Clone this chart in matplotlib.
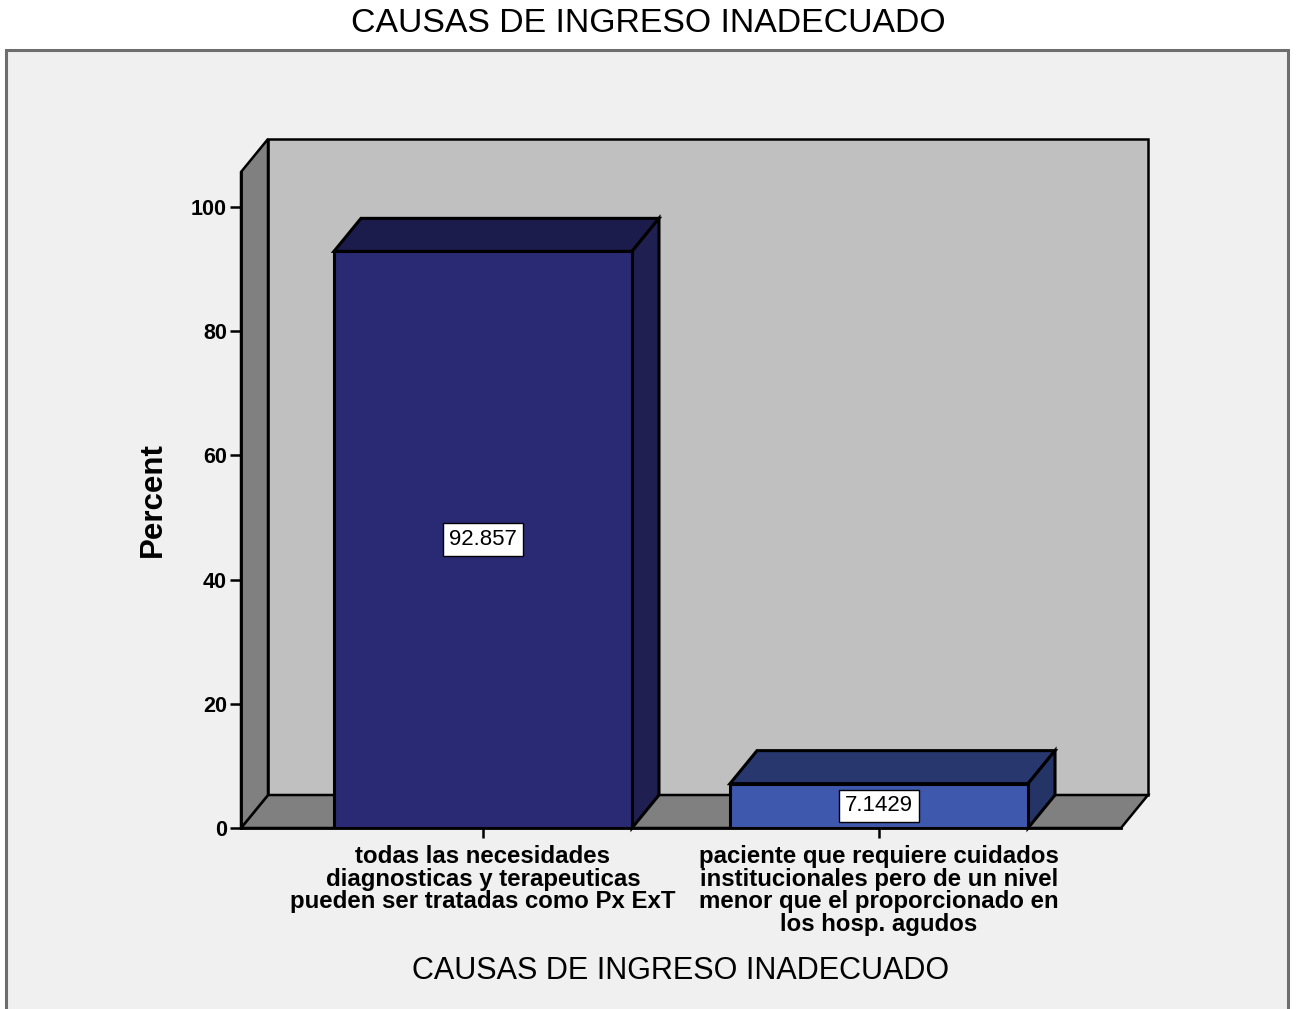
import matplotlib
matplotlib.use("Agg")
import matplotlib.pyplot as plt
from matplotlib.patches import Polygon, Rectangle

plt.rcParams['font.family'] = ['Liberation Sans', 'DejaVu Sans']

# ---- data ----
title = "CAUSAS DE INGRESO INADECUADO"
x_label = "CAUSAS DE INGRESO INADECUADO"
y_label = "Percent"
categories = [
    "todas las necesidades\ndiagnosticas y terapeuticas\npueden ser tratadas como Px ExT",
    "paciente que requiere cuidados\ninstitucionales pero de un nivel\nmenor que el proporcionado en\nlos hosp. agudos",
]
values = [92.857, 7.1429]
value_labels = ["92.857", "7.1429"]
y_ticks = [0, 20, 40, 60, 80, 100]

front_colors = ["#292a73", "#3e58ae"]
top_colors = ["#1c1c4c", "#28386e"]
side_colors = ["#1f1f52", "#253466"]

W, H = 1296, 1009
fig = plt.figure(figsize=(W / 100, H / 100), dpi=100)
fig.patch.set_facecolor("white")

# outer frame
frame = Rectangle((6 / W, -0.01), (1288 - 6) / W, 1 - 50 / H + 0.01,
                  transform=fig.transFigure, facecolor="#f0f0f0",
                  edgecolor="#6e6e6e", lw=2.2, zorder=-10)
fig.patches.append(frame)

# axes (front plane)
L, R, B, T = 241, 1121, 828, 172
ax = fig.add_axes([L / W, 1 - B / H, (R - L) / W, (B - T) / H])
ax.set_zorder(5)
ax.set_facecolor("none")
xmin, xmax = -0.611, 1.611
ymax = (B - T) / 6.21
ax.set_xlim(xmin, xmax)
ax.set_ylim(0, ymax)

px_per_x = (R - L) / (xmax - xmin)
px_per_y = (B - T) / ymax
ddx = 27 / px_per_x
ddy = 33 / px_per_y

ec = "black"
lw = 1.8
# back wall
ax.add_patch(Polygon([(xmin + ddx, ddy), (xmax + ddx, ddy), (xmax + ddx, ymax + ddy), (xmin + ddx, ymax + ddy)],
                     closed=True, facecolor="#c0c0c0", edgecolor=ec, lw=lw, clip_on=False, zorder=1))
# floor
ax.add_patch(Polygon([(xmin, 0), (xmax, 0), (xmax + ddx, ddy), (xmin + ddx, ddy)],
                     closed=True, facecolor="#808080", edgecolor=ec, lw=lw, clip_on=False, zorder=1.1))
# left wall
ax.add_patch(Polygon([(xmin, 0), (xmin, ymax), (xmin + ddx, ymax + ddy), (xmin + ddx, ddy)],
                     closed=True, facecolor="#808080", edgecolor=ec, lw=lw, clip_on=False, zorder=1.2))

xs = list(range(len(values)))
bw = 0.7525
ax.bar(xs, values, width=bw, color=front_colors, edgecolor=ec, linewidth=2.2, zorder=3)
for x, v, tc, sc in zip(xs, values, top_colors, side_colors):
    x0, x1 = x - bw / 2, x + bw / 2
    ax.add_patch(Polygon([(x0, v), (x1, v), (x1 + ddx, v + ddy), (x0 + ddx, v + ddy)], closed=True,
                         facecolor=tc, edgecolor=ec, lw=2.2, clip_on=False, zorder=2.5))
    ax.add_patch(Polygon([(x1, 0), (x1, v), (x1 + ddx, v + ddy), (x1 + ddx, ddy)], closed=True,
                         facecolor=sc, edgecolor=ec, lw=2.2, clip_on=False, zorder=2.5))

for x, v, lab in zip(xs, values, value_labels):
    ax.text(x, v / 2, lab, ha="center", va="center", fontsize=16, zorder=5,
            bbox=dict(boxstyle="square,pad=0.26", facecolor="white", edgecolor="black", lw=1.0))

for s in ["top", "right"]:
    ax.spines[s].set_visible(False)
ax.spines["left"].set_linewidth(2)
ax.spines["bottom"].set_linewidth(2)
ax.spines["left"].set_zorder(2)
ax.spines["bottom"].set_zorder(2)

ax.set_yticks(y_ticks)
ax.set_yticklabels([str(t) for t in y_ticks], fontsize=15.5, fontweight="bold")
ax.tick_params(axis="y", length=8, width=1.8, pad=2)
ax.set_xticks(xs)
ax.set_xticklabels(categories, fontsize=17.3, fontweight="bold", linespacing=0.97)
ax.tick_params(axis="x", length=7.5, width=1.8, pad=5)

fig.text(153 / W, 1 - 500 / H, y_label, rotation=90, ha="center", va="center",
         fontsize=22.5, fontweight="bold")
fig.text(681 / W, 1 - 971 / H, x_label, ha="center", va="center", fontsize=22)
fig.text(648 / W, 1 - 24 / H, title, ha="center", va="center", fontsize=24.3)

fig.savefig("out.png", dpi=100, facecolor=fig.get_facecolor())
